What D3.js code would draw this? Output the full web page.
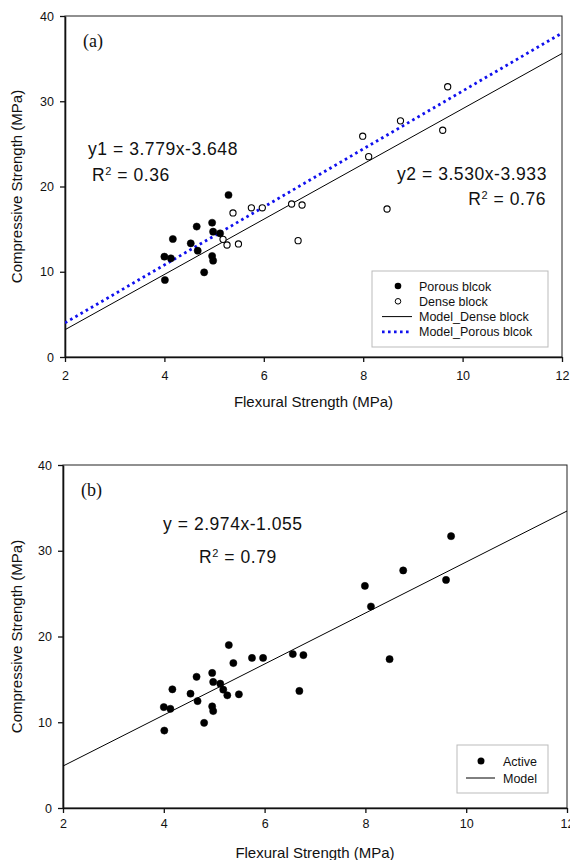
<!DOCTYPE html>
<html>
<head>
<meta charset="utf-8">
<script src="https://cdn.jsdelivr.net/npm/d3@7/dist/d3.min.js"></script>
<style>
  html, body { margin: 0; padding: 0; background: #fff; }
  svg { display: block; font-family: Arial, "Liberation Sans", sans-serif; }
</style>
</head>
<body>
<svg id="chart" width="570" height="860"></svg>
<script>
// Flexural strength (MPa) vs compressive strength (MPa)
const porousFlex = [5.29, 4.65, 4.96, 4.17, 4.53, 4.98, 5.12, 4.67, 4.00, 4.13, 4.96, 4.98, 4.80, 4.01];
const porousComp = [19.0, 15.3, 15.75, 13.84, 13.33, 14.7, 14.5, 12.47, 11.77, 11.57, 11.85, 11.3, 9.93, 9.03];

const denseFlex = [5.38, 5.75, 5.97, 5.18, 5.26, 5.49, 6.56, 6.77, 6.69, 8.48, 7.99, 8.11, 8.75, 9.60, 9.70];
const denseComp = [16.9, 17.5, 17.5, 13.8, 13.14, 13.26, 17.95, 17.83, 13.65, 17.36, 25.9, 23.5, 27.7, 26.6, 31.7];

// Model lines: value at flexural strength 2 and 12
const modelX = [2, 12];
const modelDenseY = [3.2, 35.6];
const modelPorousY = [4.0, 38.0];
// Combined model y = 2.974x - 1.055
const activeSlope = 2.974;
const activeIntercept = -1.055;

const xTicks = [2, 4, 6, 8, 10, 12];
const yTicks = [0, 10, 20, 30, 40];

const svg = d3.select("#chart");

function panel(opts) {
  const g = svg.append("g");
  const x = d3.scaleLinear().domain([2, 12]).range([opts.left, opts.right]);
  const y = d3.scaleLinear().domain([0, 40]).range([opts.bottom, opts.top]);

  // frame
  g.append("rect")
    .attr("x", opts.left).attr("y", opts.top)
    .attr("width", opts.right - opts.left).attr("height", opts.bottom - opts.top)
    .attr("fill", "none").attr("stroke", "#222").attr("stroke-width", 1);

  const clipId = "clip" + opts.id;
  g.append("clipPath").attr("id", clipId).append("rect")
    .attr("x", opts.left).attr("y", opts.top)
    .attr("width", opts.right - opts.left).attr("height", opts.bottom - opts.top);

  // axes
  const xAxis = g.append("g")
    .attr("transform", `translate(0,${opts.bottom})`)
    .call(d3.axisBottom(x).tickValues(xTicks).tickSize(5).tickSizeOuter(0).tickFormat(d3.format("d")));
  const yAxis = g.append("g")
    .attr("transform", `translate(${opts.left},0)`)
    .call(d3.axisLeft(y).tickValues(yTicks).tickSize(5).tickSizeOuter(0).tickFormat(d3.format("d")));
  [xAxis, yAxis].forEach(a => {
    a.select(".domain").attr("stroke", "#111").attr("stroke-width", 1.6);
    a.selectAll(".tick line").attr("stroke", "#111").attr("stroke-width", 1.3);
    a.selectAll(".tick text").attr("fill", "#111").style("font-size", "12.5px")
      .style("font-family", "Arial, 'Liberation Sans', sans-serif");
  });
  xAxis.selectAll(".tick text").attr("y", opts.xTickY);
  yAxis.selectAll(".tick text").attr("x", -11);

  // axis titles
  g.append("text")
    .attr("x", (opts.left + opts.right) / 2)
    .attr("y", opts.bottom + opts.xTitleDy)
    .attr("text-anchor", "middle")
    .style("font-size", "15px").attr("fill", "#111")
    .text("Flexural Strength (MPa)");
  g.append("text")
    .attr("transform", `translate(22,${(opts.top + opts.bottom) / 2}) rotate(-90)`)
    .attr("text-anchor", "middle")
    .style("font-size", "15px").attr("fill", "#111")
    .text("Compressive Strength (MPa)");

  // panel letter
  g.append("text")
    .attr("x", opts.left + 18).attr("y", opts.top + 31)
    .style("font-family", "'Liberation Serif', 'DejaVu Serif', serif")
    .style("font-size", "18px").attr("fill", "#111")
    .text(opts.letter);

  return { g, x, y, clipId };
}

function dots(p, xs, ys, filled) {
  p.g.append("g").selectAll("circle")
    .data(xs.map((v, i) => [v, ys[i]]))
    .join("circle")
    .attr("cx", d => p.x(d[0]))
    .attr("cy", d => p.y(d[1]))
    .attr("r", filled ? 3.6 : 3.1)
    .attr("fill", filled ? "#000" : "#fff")
    .attr("stroke", "#000")
    .attr("stroke-width", filled ? 0.5 : 1.1);
}

function modelLine(p, ys, color, width, dash) {
  const line = d3.line().x(d => p.x(d[0])).y(d => p.y(d[1]));
  const path = p.g.append("path")
    .datum(modelX.map((v, i) => [v, ys[i]]))
    .attr("clip-path", `url(#${p.clipId})`)
    .attr("d", line)
    .attr("fill", "none")
    .attr("stroke", color)
    .attr("stroke-width", width);
  if (dash) path.attr("stroke-dasharray", dash);
}

function label(p, xPx, yPx, parts, anchor) {
  const t = p.g.append("text")
    .attr("x", xPx).attr("y", yPx)
    .attr("text-anchor", anchor || "start")
    .style("font-size", "17.5px").style("letter-spacing", "0.55px").attr("fill", "#111");
  parts.forEach(s => {
    const ts = t.append("tspan").text(s.t);
    if (s.sup) ts.attr("baseline-shift", "super").style("font-size", "11px");
  });
}

// ---------- Panel (a): porous vs dense blocks ----------
const pa = panel({ id: "a", left: 65, right: 562, top: 16, bottom: 357, letter: "(a)", xTickY: 14, xTitleDy: 50 });
modelLine(pa, modelDenseY, "#000", 1, null);
modelLine(pa, modelPorousY, "#1010ee", 2.8, "2.6,3.4");
dots(pa, porousFlex, porousComp, true);
dots(pa, denseFlex, denseComp, false);

label(pa, 88, 155, [{ t: "y1 = 3.779x-3.648" }]);
label(pa, 92, 181, [{ t: "R" }, { t: "2", sup: true }, { t: " = 0.36" }]);
label(pa, 397, 180, [{ t: "y2 = 3.530x-3.933" }]);
label(pa, 546, 205, [{ t: "R" }, { t: "2", sup: true }, { t: " = 0.76" }], "end");

// legend (a)
const la = pa.g.append("g");
la.append("rect").attr("x", 372).attr("y", 271).attr("width", 176).attr("height", 76)
  .attr("fill", "#fff").attr("stroke", "#bbb").attr("stroke-width", 1);
const legA = [
  { name: "Porous blcok", kind: "filled" },
  { name: "Dense block", kind: "open" },
  { name: "Model_Dense block", kind: "solid" },
  { name: "Model_Porous blcok", kind: "dotted" }
];
legA.forEach((e, i) => {
  const cy = 286 + i * 15.3;
  if (e.kind === "filled") la.append("circle").attr("cx", 398).attr("cy", cy).attr("r", 3.3).attr("fill", "#000");
  if (e.kind === "open") la.append("circle").attr("cx", 398).attr("cy", cy).attr("r", 2.8).attr("fill", "#fff").attr("stroke", "#000").attr("stroke-width", 1);
  if (e.kind === "solid") la.append("line").attr("x1", 382).attr("x2", 412).attr("y1", cy).attr("y2", cy).attr("stroke", "#000").attr("stroke-width", 1);
  if (e.kind === "dotted") la.append("line").attr("x1", 382).attr("x2", 412).attr("y1", cy).attr("y2", cy).attr("stroke", "#1010ee").attr("stroke-width", 2.6).attr("stroke-dasharray", "2.6,3.4");
  la.append("text").attr("x", 419).attr("y", cy + 4.5).style("font-size", "12.5px").attr("fill", "#111").text(e.name);
});

// ---------- Panel (b): all blocks together ----------
const activeFlex = porousFlex.concat(denseFlex);
const activeComp = porousComp.concat(denseComp);
const pb = panel({ id: "b", left: 63, right: 567, top: 465, bottom: 808, letter: "(b)", xTickY: 11, xTitleDy: 50 });
modelLine(pb, modelX.map(v => activeSlope * v + activeIntercept), "#000", 1, null);
dots(pb, activeFlex, activeComp, true);

label(pb, 163, 530, [{ t: "y = 2.974x-1.055" }]);
label(pb, 199, 563, [{ t: "R" }, { t: "2", sup: true }, { t: " = 0.79" }]);

// legend (b)
const lb = pb.g.append("g");
lb.append("rect").attr("x", 457).attr("y", 745).attr("width", 91).attr("height", 48)
  .attr("fill", "#fff").attr("stroke", "#bbb").attr("stroke-width", 1);
lb.append("circle").attr("cx", 481).attr("cy", 761).attr("r", 3.5).attr("fill", "#000");
lb.append("text").attr("x", 503).attr("y", 765.5).style("font-size", "12.5px").attr("fill", "#111").text("Active");
lb.append("line").attr("x1", 466).attr("x2", 495).attr("y1", 778).attr("y2", 778).attr("stroke", "#000").attr("stroke-width", 1);
lb.append("text").attr("x", 503).attr("y", 782.5).style("font-size", "12.5px").attr("fill", "#111").text("Model");
</script>
</body>
</html>
